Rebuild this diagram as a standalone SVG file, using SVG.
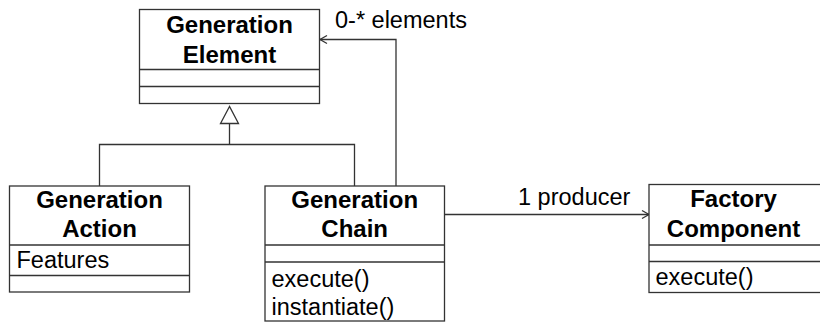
<svg xmlns="http://www.w3.org/2000/svg" width="820" height="322" viewBox="0 0 820 322">
<style>
.box{fill:#fff;stroke:#333;stroke-width:1.3}
.div{stroke:#333;stroke-width:1.3}
.t{font-family:"Liberation Sans",Arial,sans-serif;font-size:23.5px;fill:#000}
.b{font-family:"Liberation Sans",Arial,sans-serif;font-size:24px;font-weight:bold;fill:#000;text-anchor:middle}
.c{fill:none;stroke:#333;stroke-width:1.3}
</style>
<rect width="820" height="322" fill="#fff"/>
<g id="connectors">
<polyline class="c" points="99.5,186 99.5,144.5 354.5,144.5 354.5,186"/>
<line class="c" x1="229.5" y1="144.5" x2="229.5" y2="123.5"/>
<polygon points="229.5,106.5 220.5,123.5 238.5,123.5" fill="#fff" stroke="#333" stroke-width="1.3"/>
<polyline class="c" points="396,186 396,39.5 320,39.5"/>
<polyline class="c" points="327,35.5 320,39.5 327,43.5"/>
<line class="c" x1="444.5" y1="214.5" x2="649" y2="214.5"/>
<polyline class="c" points="642,210.5 649,214.5 642,218.5"/>
<text class="t" x="335" y="28">0-* elements</text>
<text class="t" x="518" y="205">1 producer</text>
</g>
<g id="generation-element">
<rect class="box" x="139.5" y="9.5" width="180" height="94"/>
<line class="div" x1="139.5" y1="69.5" x2="319.5" y2="69.5"/>
<line class="div" x1="139.5" y1="86.5" x2="319.5" y2="86.5"/>
<text class="b" x="229.5" y="33">Generation</text>
<text class="b" x="229.5" y="62.5">Element</text>
</g>
<g id="generation-action">
<rect class="box" x="9.5" y="186" width="180" height="106"/>
<line class="div" x1="9.5" y1="245" x2="189.5" y2="245"/>
<line class="div" x1="9.5" y1="275.5" x2="189.5" y2="275.5"/>
<text class="b" x="99.5" y="208">Generation</text>
<text class="b" x="99.5" y="237">Action</text>
<text class="t" x="16.5" y="268">Features</text>
</g>
<g id="generation-chain">
<rect class="box" x="265" y="186" width="179.5" height="135"/>
<line class="div" x1="265" y1="245" x2="444.5" y2="245"/>
<line class="div" x1="265" y1="262" x2="444.5" y2="262"/>
<text class="b" x="354.7" y="208">Generation</text>
<text class="b" x="354.7" y="237">Chain</text>
<text class="t" x="271.5" y="286.5">execute()</text>
<text class="t" x="271.5" y="315">instantiate()</text>
</g>
<g id="factory-component">
<rect class="box" x="649" y="184.5" width="175" height="108"/>
<line class="div" x1="649" y1="245" x2="824" y2="245"/>
<line class="div" x1="649" y1="261.5" x2="824" y2="261.5"/>
<text class="b" x="733.5" y="207">Factory</text>
<text class="b" x="733.5" y="236.5">Component</text>
<text class="t" x="655.5" y="285">execute()</text>
</g>
</svg>
